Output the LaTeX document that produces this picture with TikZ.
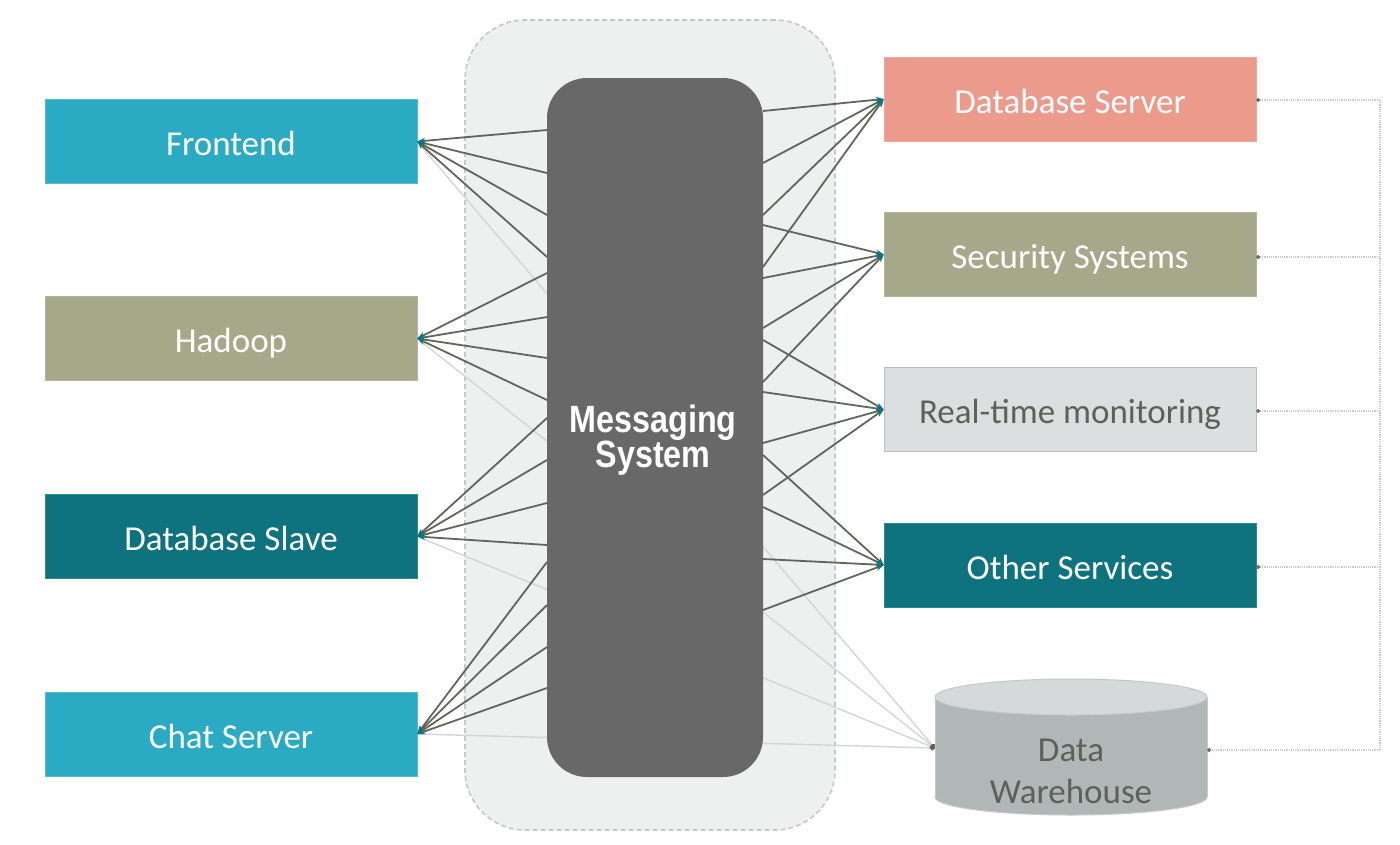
\documentclass[tikz,border=0pt]{standalone}
\usepackage{fontspec}
\setmainfont{Carlito}
\newfontfamily\msgfont{Liberation Sans}[FakeStretch=0.85]
\usetikzlibrary{arrows.meta}
\definecolor{cyanbox}{HTML}{2AABC3}
\definecolor{olivebox}{HTML}{A6A88A}
\definecolor{tealbox}{HTML}{0E737F}
\definecolor{salmonbox}{HTML}{EC9A8B}
\definecolor{greybox}{HTML}{DCDFDF}
\definecolor{greyedge}{HTML}{B9BEBE}
\definecolor{darktext}{HTML}{5E6159}
\definecolor{msgc}{HTML}{686868}
\definecolor{regionfill}{HTML}{EEF0F0}
\definecolor{regionedge}{HTML}{C3C9C9}
\definecolor{linkc}{HTML}{62665A}
\definecolor{tipc}{HTML}{0E7480}
\definecolor{ghostc}{HTML}{D2D6D6}
\definecolor{fbc}{HTML}{C6CBCB}
\definecolor{fbtip}{HTML}{6A6E66}
\definecolor{cylbody}{HTML}{B1B7B7}
\definecolor{cyltop}{HTML}{D5D9D9}
\definecolor{cyledge}{HTML}{C4C9C9}
\pgfdeclarelayer{l0}
\pgfdeclarelayer{l1}
\pgfdeclarelayer{l2}
\pgfsetlayers{l0,l1,l2,main}
\begin{document}
\begin{tikzpicture}[x=1pt,y=-1pt,
  box/.style={rectangle, minimum width=372pt, minimum height=84pt, inner sep=0pt,
    font=\fontsize{35}{40}\selectfont, text=white, text height=28pt, text depth=0pt},
  link/.style={draw=linkc, line width=1.8pt, -{Stealth[length=8pt,width=6pt,color=tipc]}},
  ghost/.style={draw=ghostc, line width=1.4pt, -{Circle[length=5pt,color=linkc]}},
  fb/.style={draw=fbc, line width=1.2pt, densely dotted},
  fbarrow/.style={fb, -{Circle[length=4pt,color=fbtip]}},
  msgbox/.style={rectangle, rounded corners=40pt, fill=msgc, minimum width=216pt, minimum height=699pt, inner sep=0pt},
  region/.style={rectangle, rounded corners=60pt, fill=regionfill, draw=regionedge, line width=1.6pt,
    dash pattern=on 5pt off 3pt, minimum width=370pt, minimum height=810pt, inner sep=0pt}
]
\useasboundingbox (0,0) rectangle (1400,844);
\begin{pgfonlayer}{l0}
\fill[white] (0,0) rectangle (1400,844);
\end{pgfonlayer}

% left boxes
\node[box, fill=cyanbox, draw=cyanbox!80!white] (fe) at (231,141.5) {Frontend};
\node[box, fill=olivebox, draw=olivebox!85!white] (hd) at (231,338.5) {Hadoop};
\node[box, fill=tealbox, draw=tealbox!85!white] (ds) at (231,536.5) {Database Slave};
\node[box, fill=cyanbox, draw=cyanbox!80!white] (cs) at (231,734) {Chat Server};

% right boxes
\node[box, fill=salmonbox, draw=salmonbox!85!white] (dbs) at (1070,99) {Database Server};
\node[box, fill=olivebox, draw=olivebox!85!white] (sec) at (1070,254.5) {Security Systems};
\node[box, fill=greybox, draw=greyedge, text=darktext] (rtm) at (1070,409.5) {Real-time monitoring};
\node[box, fill=tealbox, draw=tealbox!85!white] (oth) at (1070,565) {Other Services};

% data warehouse cylinder
\fill[cylbody, draw=cyledge, line width=1pt] (1071,797) ellipse [x radius=136pt, y radius=18pt];
\fill[cylbody] (935,697) rectangle (1207,797);
\draw[cyledge, line width=1pt] (935,697) -- (935,797) (1207,697) -- (1207,797);
\fill[cyltop, draw=cyledge, line width=1pt] (1071,697) ellipse [x radius=136pt, y radius=18pt];
\node[rectangle, minimum width=272pt, minimum height=134pt, inner sep=0pt] (dw) at (1071,748) {};
\node[font=\fontsize{35}{42}\selectfont, text=darktext, align=center] (dwt) at (1071,771) {Data\\Warehouse};

% region and messaging system
\begin{pgfonlayer}{l0}
\node[region] (reg) at (650,425) {};
\end{pgfonlayer}
\begin{pgfonlayer}{l2}
\node[msgbox] (msg) at (655,427.5) {};
\node[font=\msgfont\bfseries\fontsize{38}{33}\selectfont, text=white, align=center] (msgt) at (653,440) {Messaging\\System};
\end{pgfonlayer}

% ghost lines to data warehouse (behind messaging system)
\begin{pgfonlayer}{l1}
\foreach \n in {fe,hd,ds,cs} \draw[ghost] (\n.east) -- (dw.west);
\end{pgfonlayer}

% attachment points on messaging system
\foreach \yy [count=\i] in {130,173,215,257,273,317,358,400,418,460,503,545,562,605,647,688}
  \coordinate (L\i) at (547,\yy);
\foreach \yy [count=\i] in {111,163,215,267,225,278,328,382,340,392,443,495,455,507,559,610}
  \coordinate (R\i) at (763,\yy);

% links
\foreach \i in {1,...,4} \draw[link] (L\i) -- (fe.east);
\foreach \i in {5,...,8} \draw[link] (L\i) -- (hd.east);
\foreach \i in {9,...,12} \draw[link] (L\i) -- (ds.east);
\foreach \i in {13,...,16} \draw[link] (L\i) -- (cs.east);
\foreach \i in {1,...,4} \draw[link] (R\i) -- (dbs.west);
\foreach \i in {5,...,8} \draw[link] (R\i) -- (sec.west);
\foreach \i in {9,...,12} \draw[link] (R\i) -- (rtm.west);
\foreach \i in {13,...,16} \draw[link] (R\i) -- (oth.west);

% feedback loop on the right
\coordinate (F1) at (1380,100);
\coordinate (F2) at (1380,257);
\coordinate (F3) at (1380,411);
\coordinate (F4) at (1380,567);
\coordinate (F5) at (1380,750);
\draw[fb] (F1) -- (F5);
\draw[fbarrow] (F1) -- (dbs.east |- F1);
\draw[fbarrow] (F2) -- (sec.east |- F2);
\draw[fbarrow] (F3) -- (rtm.east |- F3);
\draw[fbarrow] (F4) -- (oth.east |- F4);
\draw[fbarrow] (F5) -- (dw.east |- F5);
\end{tikzpicture}
\end{document}
